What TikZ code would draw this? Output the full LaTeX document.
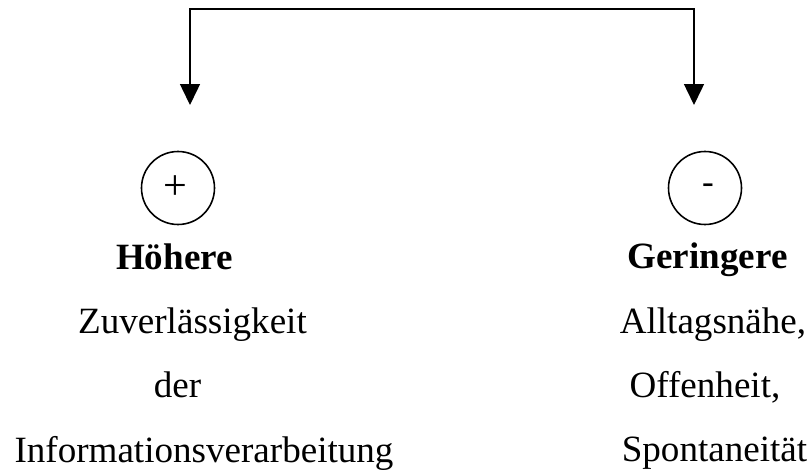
\documentclass[tikz,border=0pt]{standalone}
\usepackage{fontspec}
\setmainfont{Liberation Serif}
\usetikzlibrary{arrows.meta}

\begin{document}
\begin{tikzpicture}[pole/.style={circle,draw,line width=0.9pt,inner sep=0pt,minimum size=1.46cm},
    word/.style={anchor=base,inner sep=0pt,font=\fontsize{21.1}{25}\selectfont}]
        \useasboundingbox (0,0) rectangle (16.22,-9.44);

        \coordinate (top) at (8.84,-0.18);
        \coordinate (lend) at (3.8,-2.1);
        \coordinate (rend) at (13.88,-2.1);

        \node[pole,font=\fontsize{24}{26}\selectfont] (plus) at (3.56,-3.76) {\hspace{-0.1cm}\raisebox{-0.3ex}{+}};
        \node[pole,font=\fontsize{20}{22}\selectfont] (minus) at (14.1,-3.76) {\hspace{0.12cm}\raisebox{-0.7ex}{-}};

        \node[word,font=\fontsize{21.1}{25}\selectfont\bfseries] (hoe) at (3.49,-5.38) {Höhere};
        \node[word] (zuv) at (3.85,-6.67) {Zuverlässigkeit};
        \node[word] (der) at (3.55,-7.95) {der};
        \node[word] (inf) at (4.08,-9.24) {Informationsverarbeitung};

        \node[word,font=\fontsize{21.1}{25}\selectfont\bfseries] (ger) at (14.15,-5.37) {Geringere};
        \node[word] (all) at (14.26,-6.66) {Alltagsnähe,};
        \node[word] (off) at (14.1,-7.94) {Offenheit,};
        \node[word] (spo) at (14.29,-9.22) {Spontaneität};

        \draw[line width=0.85pt,{Triangle[width=0.4cm,length=0.42cm]}-{Triangle[width=0.4cm,length=0.42cm]}] (lend) |- (top) -| (rend);
    \end{tikzpicture}
\end{document}
